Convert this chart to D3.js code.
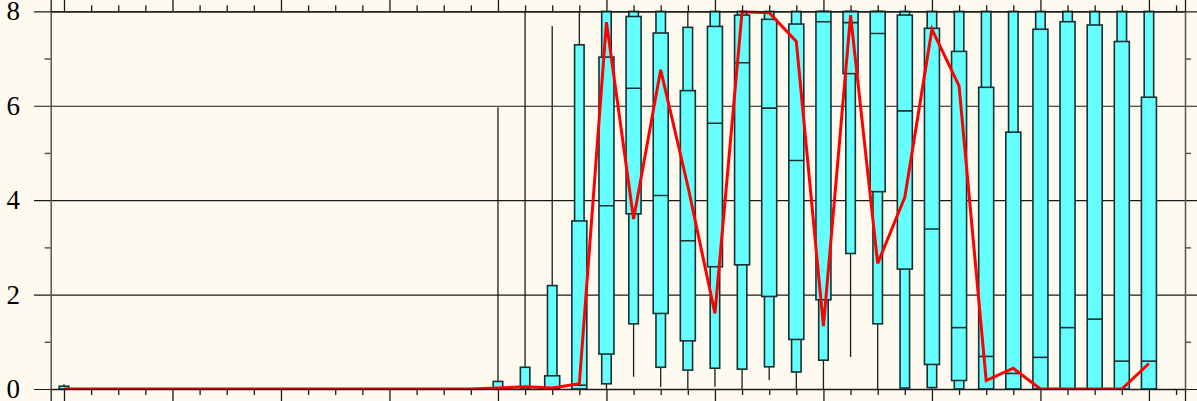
<html>
<head>
<meta charset="utf-8">
<title>box chart</title>
<style>
  body { margin: 0; background: #fffaf0; }
  svg { display: block; }
  .tick text { font-family: "Liberation Serif", "DejaVu Serif", serif; }
</style>
<script src="https://cdnjs.cloudflare.com/ajax/libs/d3/7.8.5/d3.min.js"></script>
</head>
<body>
<svg></svg>
<script>
// one candle per index 0..40
const idx = d3.range(41);
const mins  = [0,0,0,0,0,0,0,0,0,0,0,0,0,0,0,0, 0,0,0,0,0,0.26,0.04,0,0.05,0,0.19,0,0,0.68,0,0,0,0,0,0,0,0,0,0,0];
const p10   = [0,0,0,0,0,0,0,0,0,0,0,0,0,0,0,0, 0,0,0,0,0.11,1.38,0.46,0.40,0.44,0.42,0.47,0.36,0.61,2.87,1.38,0.02,0.03,0,0,0,0,0,0,0,0];
const q1    = [0,0,0,0,0,0,0,0,0,0,0,0,0,0,0,0, 0,0,0,0,0.74,3.71,1.6,1.02,2.59,2.63,1.96,1.05,1.89,6.68,4.18,2.54,0.52,0.18,0,0,0,0,0,0,0];
const med   = [0,0,0,0,0,0,0,0,0,0,0,0,0,0,0,0, 0,0,0.02,0.08,3.88,6.37,4.1,3.14,5.63,6.91,5.95,4.84,7.78,7.76,7.53,5.89,3.39,1.3,0.69,0.33,0.67,1.3,1.48,0.59,0.59];
const q3    = [0,0,0,0,0,0,0,0,0,0,0,0,0,0,0,0, 0,0,0.28,3.56,7.03,7.89,7.54,6.32,7.68,7.92,7.83,7.73,8,8,8,7.92,7.64,7.15,6.39,5.44,7.62,7.78,7.71,7.36,6.18];
const p90   = [0.06,0,0,0,0,0,0,0,0,0,0,0,0,0,0,0, 0.16,0.46,2.19,7.29,8,8,8,7.66,8,8,8,8,8,8,8,8,8,8,8,8,8,8,8,8,8];
const maxs  = [0.1,0,0,0,0,0,0,0,0,0,0,0,0,0,0,0, 5.97,8,7.69,8,8,8,8,8,8,8,8,8,8,8,8,8,8,8,8,8,8,8,8,8,8];
const means = [0,0,0,0,0,0,0,0,0,0,0,0,0,0,0,0, 0.02,0.05,0.02,0.11,7.77,3.6,6.76,4.3,1.6,7.99,7.97,7.36,1.33,7.92,2.66,4.06,7.62,6.42,0.18,0.44,0,0,0,0,0.54];
const yTicks = [0, 2, 4, 6, 8];
const yMinor = [1, 3, 5, 7];
const xMajor = [0, 4, 8, 12, 16, 20, 24, 28, 32, 36, 40];
const xMinor = d3.range(0, 42).filter(d => d % 4 !== 0);

const W = 1197, H = 401;
const pLeft = 50.7, pRight = 1185, pTop = 11.3, pBottom = 389;

const svg = d3.select('svg').attr('width', W).attr('height', H);

const x = d3.scaleLinear().domain([-0.49, 41.33]).range([pLeft, pRight]);
const y = d3.scaleLinear().domain([0, 8]).range([pBottom, pTop]);

// gridlines (left major ticks stretched across)
svg.append('g')
  .attr('transform', `translate(${pRight + 17},0)`)
  .call(d3.axisLeft(y).tickValues(yTicks).tickSize(pRight + 17 - 34).tickFormat(''))
  .call(g => g.select('.domain').remove())
  .call(g => g.selectAll('line').attr('stroke', '#1a1a1a').attr('stroke-width', 1.2));

// y labels
svg.append('g')
  .attr('transform', `translate(34,0)`)
  .call(d3.axisLeft(y).tickValues(yTicks).tickSize(0).tickPadding(14))
  .call(g => g.select('.domain').remove())
  .call(g => g.selectAll('text').attr('font-size', 27).attr('fill', '#000'));

svg.append('clipPath').attr('id', 'plot')
  .append('rect').attr('x', pLeft).attr('y', pTop - 1).attr('width', pRight - pLeft).attr('height', pBottom - pTop + 2);

const plot = svg.append('g').attr('clip-path', 'url(#plot)');
const narrow = 9.5, wide = 15;
const boxStroke = '#163030';

const c = plot.selectAll('.candle').data(idx).enter().append('g').attr('class', 'candle');
c.append('line')
  .attr('x1', i => x(i)).attr('x2', i => x(i))
  .attr('y1', i => y(maxs[i])).attr('y2', i => y(mins[i]))
  .attr('stroke', '#122020').attr('stroke-width', 1.3);
c.append('rect')
  .attr('x', i => x(i) - narrow / 2).attr('width', narrow)
  .attr('y', i => y(p90[i])).attr('height', i => y(p10[i]) - y(p90[i]))
  .attr('fill', '#66ffff').attr('stroke', boxStroke).attr('stroke-width', 1.6);
c.append('rect')
  .attr('x', i => x(i) - wide / 2).attr('width', wide)
  .attr('y', i => y(q3[i])).attr('height', i => y(q1[i]) - y(q3[i]))
  .attr('fill', '#66ffff').attr('stroke', boxStroke).attr('stroke-width', 1.6)
  .style('display', i => q3[i] - q1[i] > 0 ? null : 'none');
c.append('line')
  .attr('x1', i => x(i) - wide / 2).attr('x2', i => x(i) + wide / 2)
  .attr('y1', i => y(med[i])).attr('y2', i => y(med[i]))
  .attr('stroke', boxStroke).attr('stroke-width', 1.6)
  .style('display', i => q3[i] - q1[i] > 0 ? null : 'none');

plot.append('path')
  .datum(idx)
  .attr('fill', 'none').attr('stroke', '#ff0000').attr('stroke-width', 3)
  .attr('d', d3.line().x(i => x(i)).y(i => y(means[i])));

// frame and ticks
const axisStyle = g => g.selectAll('line,path').attr('stroke', '#1a1a1a').attr('stroke-width', 1.3);
svg.append('g').attr('transform', `translate(0,${pTop})`)
  .call(d3.axisTop(x).tickValues(xMajor).tickSize(17).tickFormat('')).call(axisStyle);
svg.append('g').attr('transform', `translate(0,${pTop})`)
  .call(d3.axisTop(x).tickValues(xMinor).tickSize(6).tickFormat('')).call(axisStyle)
  .call(g => g.select('.domain').remove());
svg.append('g').attr('transform', `translate(0,${pBottom})`)
  .call(d3.axisBottom(x).tickValues(xMajor).tickSize(17).tickFormat('')).call(axisStyle);
svg.append('g').attr('transform', `translate(0,${pBottom})`)
  .call(d3.axisBottom(x).tickValues(xMinor).tickSize(6).tickFormat('')).call(axisStyle)
  .call(g => g.select('.domain').remove());
svg.append('g').attr('transform', `translate(${pLeft},0)`)
  .call(d3.axisLeft(y).tickValues(yMinor).tickSize(6).tickSizeOuter(0).tickFormat(''))
  .call(g => g.selectAll('line,path').attr('stroke', '#555').attr('stroke-width', 1.5));
svg.append('g').attr('transform', `translate(${pRight},0)`)
  .call(d3.axisRight(y).tickValues(yMinor).tickSize(6).tickSizeOuter(0).tickFormat(''))
  .call(g => g.selectAll('line,path').attr('stroke', '#555').attr('stroke-width', 1.5));
</script>
</body>
</html>
